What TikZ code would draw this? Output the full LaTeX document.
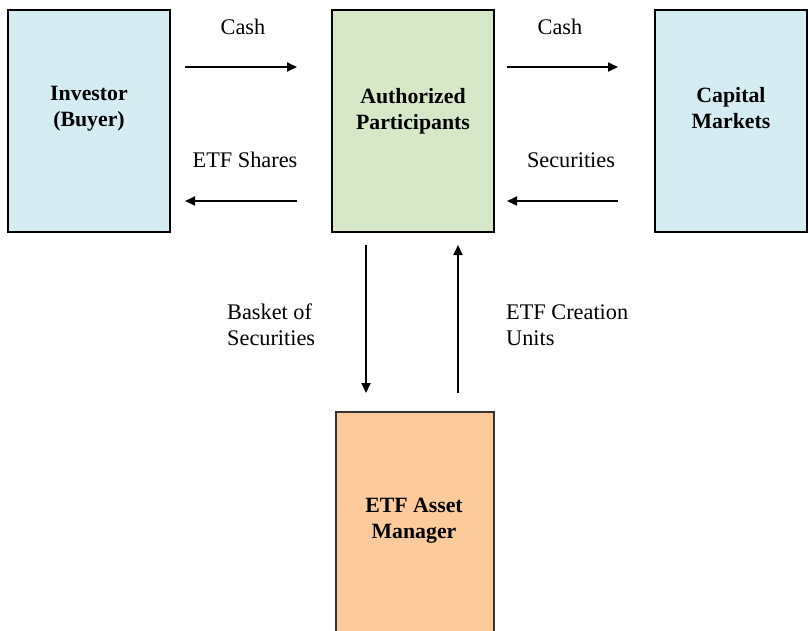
\documentclass[tikz,border=0pt]{standalone}
\usepackage{fontspec}
\setmainfont{Liberation Serif}
\usetikzlibrary{arrows.meta}
\definecolor{boxblue}{HTML}{D5EDF2}
\definecolor{boxgreen}{HTML}{D7E8C9}
\definecolor{boxorange}{HTML}{FDCB9B}
\tikzset{
  box/.style={draw=black, line width=2pt, minimum width=160pt, minimum height=220pt, inner sep=0pt},
  boxtext/.style={font=\fontsize{21.8}{26}\selectfont\bfseries, align=center},
  lbl/.style={font=\fontsize{22.3}{26}\selectfont, align=left, inner sep=0pt},
  flow/.style={line width=1.8pt, -{Triangle[length=10pt,width=9pt]}}
}
\begin{document}
\begin{tikzpicture}[x=1pt,y=-1pt]
\useasboundingbox (0,0) rectangle (808,630);
% boxes
\node[box, fill=boxblue, minimum width=162pt, minimum height=222pt] (inv) at (89,121) {};
\node[box, fill=boxgreen, minimum width=162pt, minimum height=222pt] (ap) at (413,121) {};
\node[box, fill=boxblue, minimum width=152pt, minimum height=222pt] (cm) at (731,121) {};
\node[box, draw=black!80, fill=boxorange, minimum width=158pt, minimum height=240pt] (mgr) at (415,532) {};
% box texts
\node[boxtext] (invt) at (89,109) {Investor\\(Buyer)};
\node[boxtext] (apt) at (413,111) {Authorized\\Participants};
\node[boxtext] (cmt) at (731,108) {Capital\\Markets};
\node[boxtext] (mgrt) at (414,521) {ETF Asset\\Manager};
% arrow endpoints
\coordinate (a1s) at (185,67); \coordinate (a1e) at (297,67);
\coordinate (a2s) at (297,201); \coordinate (a2e) at (185,201);
\coordinate (a3s) at (507,67); \coordinate (a3e) at (618,67);
\coordinate (a4s) at (618,201); \coordinate (a4e) at (507,201);
\coordinate (a5s) at (366,245); \coordinate (a5e) at (366,393);
\coordinate (a6s) at (458,393); \coordinate (a6e) at (458,245);
\draw[flow] (a1s) -- (a1e);
\draw[flow] (a2s) -- (a2e);
\draw[flow] (a3s) -- (a3e);
\draw[flow] (a4s) -- (a4e);
\draw[flow] (a5s) -- (a5e);
\draw[flow] (a6s) -- (a6e);
% labels
\node[lbl] (l1) at (243,27) {Cash};
\node[lbl] (l2) at (245,160) {ETF Shares};
\node[lbl] (l3) at (560,27) {Cash};
\node[lbl] (l4) at (571,160) {Securities};
\node[lbl, anchor=west] (l5) at (227,325) {Basket of\\Securities};
\node[lbl, anchor=west] (l6) at (506,325) {ETF Creation\\Units};
\end{tikzpicture}
\end{document}
